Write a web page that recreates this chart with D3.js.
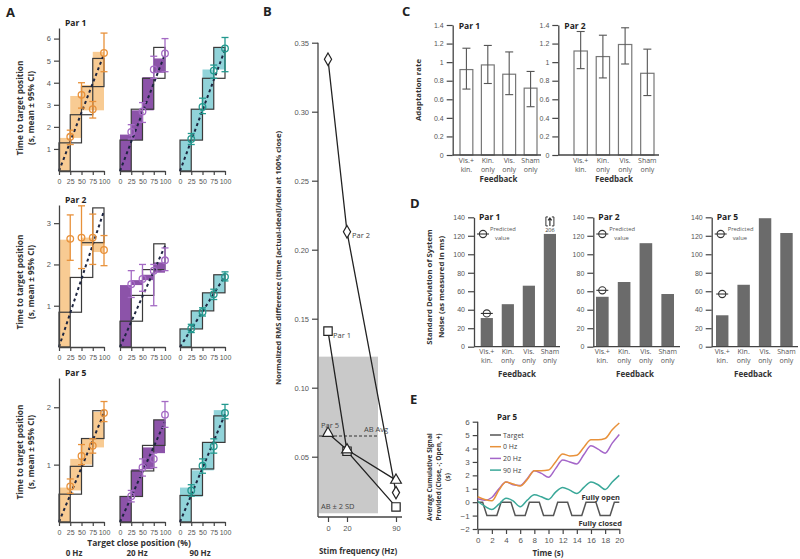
<!DOCTYPE html>
<html>
<head>
<meta charset="utf-8">
<script src="https://cdn.jsdelivr.net/npm/d3@7"></script>
<style>
  body { margin: 0; background: #fff; }
  svg { font-family: "Open Sans", "Liberation Sans", sans-serif; }
  .tick text { fill: #555; }
  .domain, .tick line { stroke: #444; }
</style>
</head>
<body>
<svg id="fig" width="800" height="559"></svg>
<script>
// ---------- panel A : time to target position ----------
const freqLabels = ["0 Hz", "20 Hz", "90 Hz"];
const targetPos = [25, 50, 75, 100];

const p1Ideal = [5.1, 5.6, 5.6];
const p1Fit = [5.3, 5.3, 5.5];
const p1Shade = [[[0, 1.5], [1.5, 3.4], [2.75, 3.9], [2.75, 5.4]],
                 [[0, 1.65], [1.4, 2.75], [2.75, 4.25], [4.45, 5.1]],
                 [[0, 1.4], [1.4, 2.8], [2.8, 4.6], [4.6, 5.6]]];
const p1Mean = [[1.55, 3.45, 2.8, 5.35], [1.77, 2.7, 4.6, 5.33], [1.45, 2.9, 4.55, 5.55]];
const p1Lo = [[1.2, 2.85, 2.4, 4.5], [1.45, 2.2, 4.2, 4.5], [1.2, 2.6, 4.2, 4.5]];
const p1Hi = [[1.85, 4.0, 3.15, 6.25], [2.1, 3.1, 5.2, 6.0], [1.7, 3.3, 4.8, 6.05]];

const p2Ideal = [3.37, 2.5, 1.75];
const p2Fit = [3.3, 2.45, 1.72];
const p2Shade = [[[0, 2.6], [2.6, 2.6], [2.45, 2.65], [2.3, 2.55]],
                 [[0, 1.5], [1.5, 1.62], [1.62, 1.75], [1.8, 2.05]],
                 [[0, 0.44], [0.44, 0.88], [0.88, 1.31], [1.31, 1.75]]];
const p2Mean = [[2.62, 2.65, 2.65, 2.35], [1.52, 1.65, 1.85, 2.1], [0.45, 0.85, 1.28, 1.7]];
const p2Lo = [[2.1, 1.9, 2.0, 1.97], [1.2, 1.35, 1.0, 1.85], [0.35, 0.75, 1.15, 1.6]];
const p2Hi = [[3.2, 3.42, 3.22, 2.7], [1.85, 2.0, 2.0, 2.4], [0.55, 0.95, 1.4, 1.82]];

const p5Ideal = [1.94, 1.78, 1.85];
const p5Fit = [1.9, 1.75, 1.88];
const p5Shade = [[[0, 0.6], [0.55, 1.1], [1.0, 1.45], [1.3, 1.92]],
                 [[0, 0.45], [0.45, 0.92], [0.92, 1.3], [1.2, 1.78]],
                 [[0, 0.6], [0.44, 0.9], [0.9, 1.38], [1.38, 1.95]]];
const p5Mean = [[0.62, 1.15, 1.33, 1.9], [0.45, 0.95, 1.1, 1.87], [0.55, 0.98, 1.32, 1.9]];
const p5Lo = [[0.5, 1.0, 1.2, 1.75], [0.35, 0.8, 0.95, 1.65], [0.45, 0.85, 1.2, 1.8]];
const p5Hi = [[0.75, 1.35, 1.45, 2.1], [0.55, 1.1, 1.2, 2.1], [0.65, 1.1, 1.45, 2.05]];

// ---------- panel B : RMS difference vs stim frequency ----------
const stimHz = [0, 20, 90];
const rmsPar1 = [0.141, 0.054, 0.0136];
const rmsPar2 = [0.338, 0.213, 0.024];
const rmsPar5 = [0.067, 0.055, 0.033];
const abAvg = 0.065;
const abBand = [0.009, 0.1225];

// ---------- panel C : adaptation rate ----------
const feedbackCats = ["Vis.+ kin.", "Kin. only", "Vis. only", "Sham only"];
const feedbackLines = [["Vis.+", "kin."], ["Kin.", "only"], ["Vis.", "only"], ["Sham", "only"]];
const adaptPar1 = [0.92, 0.97, 0.87, 0.72];
const adaptPar1Lo = [0.71, 0.77, 0.65, 0.52];
const adaptPar1Hi = [1.15, 1.18, 1.11, 0.90];
const adaptPar2 = [1.12, 1.06, 1.19, 0.88];
const adaptPar2Lo = [0.93, 0.83, 0.98, 0.64];
const adaptPar2Hi = [1.33, 1.29, 1.37, 1.14];

// ---------- panel D : system noise ----------
const noisePar1 = [31, 46, 66, 122];
const noisePar2 = [54, 70, 112, 57];
const noisePar5 = [34, 67, 139, 123];
const predictedNoise = [36, 61, 57];
const shamPar1Actual = 206;

// ---------- panel E : cumulative signal ----------
const timeS = [0, 1, 2, 3, 4, 5, 6, 7, 8, 9, 10, 11, 12, 13, 14, 15, 16, 17, 18, 19, 20];
const sig0Hz = [0.4, 0.2, 0.1, 0.9, 1.5, 1.35, 1.2, 1.7, 2.35, 2.35, 2.4, 3.0, 3.6, 3.45, 3.5, 4.1, 4.65, 4.65, 4.75, 5.4, 5.9];
const sig20Hz = [0.25, 0.15, 0.35, 1.0, 1.5, 1.3, 1.25, 1.75, 2.35, 2.15, 1.85, 2.5, 3.15, 3.0, 2.85, 3.55, 4.2, 3.95, 3.65, 4.4, 5.05];
const sig90Hz = [0.05, -0.3, -0.55, -0.15, 0.3, 0.1, -0.35, 0.15, 0.55, 0.4, 0.2, 0.75, 1.1, 0.9, 0.65, 1.1, 1.5, 1.3, 0.95, 1.5, 2.0];
const targetT = [0, 0.7, 1.3, 2.7, 3.3, 4.7, 5.3, 6.7, 7.3, 8.7, 9.3, 10.7, 11.3, 12.7, 13.3, 14.7, 15.3, 16.7, 17.3, 18.7, 19.3, 20];
const targetV = [0, 0, -1, -1, 0, 0, -1, -1, 0, 0, -1, -1, 0, 0, -1, -1, 0, 0, -1, -1, 0, 0];

const svg = d3.select("#fig");

function label(g, x, y, txt, opt) {
    opt = opt || {};
    let t = g.append("text")
        .attr("x", x).attr("y", y)
        .attr("font-size", opt.size || 8)
        .attr("font-weight", opt.bold ? "bold" : "normal")
        .attr("text-anchor", opt.anchor || "start")
        .attr("fill", opt.fill || "#333")
        .text(txt);
    if (opt.rotate) t.attr("transform", `rotate(-90,${x},${y})`);
    return t;
}

function styleAxis(g, size) {
    g.selectAll("text").attr("font-size", size);
    g.select(".domain").attr("stroke-width", 1.3);
    g.selectAll(".tick line").attr("stroke-width", 1.2);
}

// ---------- A ----------
function drawPanelA() {
    let colX = [59, 120, 180];
    let colW = 45;
    let fills = ["#f8cb93", "#8c53a9", "#91d3d9"];
    let dots = ["#e8913a", "#a46ac4", "#23998f"];
    let rows = [
        { title: "Par 1", base: 171, top: 28, max: 6.48, ticks: [1, 2, 3, 4, 5, 6], ideal: p1Ideal, fit: p1Fit, shade: p1Shade, mean: p1Mean, lo: p1Lo, hi: p1Hi, labY: 108 },
        { title: "Par 2", base: 347, top: 205, max: 3.44, ticks: [1, 2, 3], ideal: p2Ideal, fit: p2Fit, shade: p2Shade, mean: p2Mean, lo: p2Lo, hi: p2Hi, labY: 282 },
        { title: "Par 5", base: 522, top: 378, max: 2.51, ticks: [1, 2], ideal: p5Ideal, fit: p5Fit, shade: p5Shade, mean: p5Mean, lo: p5Lo, hi: p5Hi, labY: 452 }
    ];
    let g = svg.append("g");
    label(g, 6, 17, "A", { size: 13, bold: true, fill: "#222" });

    rows.forEach(row => {
        let y = d3.scaleLinear().domain([0, row.max]).range([row.base, row.top]);
        label(g, 65, row.top - 2, row.title, { size: 8.5, bold: true, fill: "#222" });
        label(g, 23, row.labY, "Time to target position", { size: 8.3, bold: true, anchor: "middle", rotate: true });
        label(g, 34, row.labY, "(s, mean \u00b1 95% CI)", { size: 8.3, bold: true, anchor: "middle", rotate: true });

        colX.forEach((x0, fi) => {
            let x = d3.scaleLinear().domain([0, 100]).range([x0, x0 + colW]);
            let sub = g.append("g");
            // measured steps
            sub.selectAll(".shade").data(row.shade[fi]).enter().append("rect")
                .attr("x", (d, i) => x(i * 25))
                .attr("width", x(25) - x(0))
                .attr("y", d => y(d[1]))
                .attr("height", d => y(d[0]) - y(d[1]))
                .attr("fill", fills[fi]);
            // ideal staircase
            let T = row.ideal[fi];
            sub.selectAll(".box").data(targetPos).enter().append("rect")
                .attr("x", d => x(d - 25))
                .attr("width", x(25) - x(0))
                .attr("y", d => y(T * d / 100))
                .attr("height", y(0) - y(T / 4))
                .attr("fill", "none")
                .attr("stroke", "#3a3a3a")
                .attr("stroke-width", 1.2);
            // fit line
            sub.append("line")
                .attr("x1", x(0)).attr("y1", y(0))
                .attr("x2", x(100)).attr("y2", y(row.fit[fi]))
                .attr("stroke", "#1d2540").attr("stroke-width", 2)
                .attr("stroke-dasharray", "3,3");
            // error bars
            targetPos.forEach((p, i) => {
                let c = dots[fi];
                sub.append("line").attr("x1", x(p)).attr("x2", x(p))
                    .attr("y1", y(row.lo[fi][i])).attr("y2", y(row.hi[fi][i]))
                    .attr("stroke", c).attr("stroke-width", 1.3);
                [row.lo[fi][i], row.hi[fi][i]].forEach(v => {
                    sub.append("line").attr("x1", x(p) - 3.5).attr("x2", x(p) + 3.5)
                        .attr("y1", y(v)).attr("y2", y(v))
                        .attr("stroke", c).attr("stroke-width", 1.3);
                });
            });
            sub.selectAll(".dot").data(row.mean[fi]).enter().append("circle")
                .attr("cx", (d, i) => x(targetPos[i]))
                .attr("cy", d => y(d))
                .attr("r", 3.3)
                .attr("fill", "none")
                .attr("stroke", dots[fi])
                .attr("stroke-width", 1.3);
            // x axis
            let ax = sub.append("g").attr("transform", `translate(0,${row.base})`)
                .call(d3.axisBottom(x).tickValues([0, 25, 50, 75, 100]).tickSize(4).tickSizeOuter(0).tickPadding(4));
            styleAxis(ax, 7);
            if (fi === 0) {
                let ay = sub.append("g").attr("transform", `translate(${x0},0)`)
                    .call(d3.axisLeft(y).tickValues(row.ticks).tickFormat(d3.format("d")).tickSize(5).tickSizeOuter(0).tickPadding(3));
                styleAxis(ay, 7.5);
            }
        });
    });
    label(g, 139, 546, "Target close position (%)", { size: 8.5, bold: true, anchor: "middle" });
    [74, 137, 200].forEach((cx, i) => label(g, cx, 556, freqLabels[i], { size: 8, bold: true, anchor: "middle" }));
}

// ---------- B ----------
function drawPanelB() {
    let g = svg.append("g");
    let axX = 318, axBottom = 517;
    let x = d3.scaleLinear().domain(stimHz).range([328, 347, 396]);
    let y = d3.scaleLinear().domain([0, 0.35]).range([525.7, 42.7]);
    label(g, 263, 16, "B", { size: 13, bold: true, fill: "#222" });

    g.append("rect")
        .attr("x", axX + 1).attr("width", 378 - axX - 1)
        .attr("y", y(abBand[1])).attr("height", y(abBand[0]) - y(abBand[1]))
        .attr("fill", "#c9c9c9");
    g.append("line").attr("x1", axX + 1).attr("x2", 378)
        .attr("y1", y(abAvg)).attr("y2", y(abAvg))
        .attr("stroke", "#333").attr("stroke-width", 1).attr("stroke-dasharray", "3,2");

    let ay = g.append("g").attr("transform", `translate(${axX},0)`)
        .call(d3.axisLeft(y).tickValues([0.05, 0.10, 0.15, 0.20, 0.25, 0.30, 0.35]).tickFormat(d3.format(".2f")).tickSize(6).tickSizeOuter(0).tickPadding(3));
    ay.select(".domain").attr("d", `M0,${axBottom}V${y(0.35)}`);
    styleAxis(ay, 7.5);
    let ax = g.append("g").attr("transform", `translate(0,${axBottom})`)
        .call(d3.axisBottom(x).tickValues(stimHz).tickSize(5).tickSizeOuter(0).tickPadding(4));
    ax.select(".domain").attr("d", `M${axX},0H402`);
    styleAxis(ax, 7.5);

    let line = d3.line().x((d, i) => x(stimHz[i])).y(d => y(d));
    let series = [
        { v: rmsPar2, sym: d3.symbolDiamond, size: 45, name: "Par 2", lx: 352, ly: 238 },
        { v: rmsPar1, sym: d3.symbolSquare, size: 70, name: "Par 1", lx: 333, ly: 338 },
        { v: rmsPar5, sym: d3.symbolTriangle, size: 50, name: "Par 5", lx: 321, ly: 428 }
    ];
    series.forEach(s => {
        g.append("path").attr("d", line(s.v)).attr("fill", "none")
            .attr("stroke", "#222").attr("stroke-width", 1.3);
        s.v.forEach((v, i) => {
            g.append("path").attr("d", d3.symbol(s.sym, s.size)())
                .attr("transform", `translate(${x(stimHz[i])},${y(v)})`)
                .attr("fill", "#fff").attr("stroke", "#222").attr("stroke-width", 1.2);
        });
        label(g, s.lx, s.ly, s.name, { size: 7.5, fill: "#444" });
    });
    label(g, 364, 432, "AB Avg", { size: 7.5, fill: "#444" });
    label(g, 321, 509, "AB \u00b1 2 SD", { size: 7.5, fill: "#444" });
    label(g, 281, 258, "Normalized RMS difference (time [actual-ideal]/ideal at 100% close)", { size: 7.6, bold: true, anchor: "middle", rotate: true });
    label(g, 358, 554, "Stim frequency (Hz)", { size: 8, bold: true, anchor: "middle" });
}

function catLabels(g, x, yTop, fbY, centerX) {
    feedbackCats.forEach((c, i) => {
        let cx = x(c) + x.bandwidth() / 2;
        label(g, cx, yTop, feedbackLines[i][0], { size: 7, anchor: "middle", fill: "#555" });
        label(g, cx, yTop + 8.5, feedbackLines[i][1], { size: 7, anchor: "middle", fill: "#555" });
    });
    label(g, centerX, fbY, "Feedback", { size: 8, bold: true, anchor: "middle" });
}

// ---------- C ----------
function drawPanelC() {
    let g = svg.append("g");
    label(g, 402, 16, "C", { size: 13, bold: true, fill: "#222" });
    let y = d3.scaleLinear().domain([0, 1.4]).range([155, 25]);
    let plots = [
        { axX: 452.7, range: [460, 537], end: 541, v: adaptPar1, lo: adaptPar1Lo, hi: adaptPar1Hi, title: "Par 1" },
        { axX: 558.3, range: [574, 654], end: 659, v: adaptPar2, lo: adaptPar2Lo, hi: adaptPar2Hi, title: "Par 2" }
    ];
    plots.forEach(p => {
        let x = d3.scaleBand().domain(feedbackCats).range(p.range).paddingInner(0.4).paddingOuter(0);
        g.selectAll(null).data(p.v).enter().append("rect")
            .attr("x", (d, i) => x(feedbackCats[i]))
            .attr("width", x.bandwidth())
            .attr("y", d => y(d))
            .attr("height", d => y(0) - y(d))
            .attr("fill", "#fff").attr("stroke", "#777").attr("stroke-width", 1.2);
        p.v.forEach((d, i) => {
            let cx = x(feedbackCats[i]) + x.bandwidth() / 2;
            g.append("line").attr("x1", cx).attr("x2", cx).attr("y1", y(p.lo[i])).attr("y2", y(p.hi[i]))
                .attr("stroke", "#555").attr("stroke-width", 1.1);
            [p.lo[i], p.hi[i]].forEach(v => g.append("line").attr("x1", cx - 4).attr("x2", cx + 4)
                .attr("y1", y(v)).attr("y2", y(v)).attr("stroke", "#555").attr("stroke-width", 1.1));
        });
        let ay = g.append("g").attr("transform", `translate(${p.axX},0)`)
            .call(d3.axisLeft(y).tickValues([0, 0.2, 0.4, 0.6, 0.8, 1, 1.2, 1.4]).tickFormat(d => String(+d.toFixed(1))).tickSize(6).tickSizeOuter(0).tickPadding(3));
        styleAxis(ay, 7);
        g.append("line").attr("x1", p.axX).attr("x2", p.end).attr("y1", y(0)).attr("y2", y(0))
            .attr("stroke", "#444").attr("stroke-width", 1.3);
        label(g, p.axX + 6, 29, p.title, { size: 8.5, bold: true, fill: "#222" });
        catLabels(g, x, 163, 182, (p.range[0] + p.range[1]) / 2);
    });
    label(g, 421, 90, "Adaptation rate", { size: 7.8, bold: true, anchor: "middle", rotate: true });
}

// ---------- D ----------
function predMarker(g, cx, cy) {
    g.append("circle").attr("cx", cx).attr("cy", cy).attr("r", 3.6)
        .attr("fill", "none").attr("stroke", "#333").attr("stroke-width", 1.1);
    g.append("line").attr("x1", cx - 6).attr("x2", cx + 6).attr("y1", cy).attr("y2", cy)
        .attr("stroke", "#333").attr("stroke-width", 1.1);
}

function offScaleMark(g, cx, top) {
    // bracketed up-arrow showing the bar is clipped
    let b = top - 8, t = top - 17;
    g.append("path").attr("d", `M${cx - 2},${b}H${cx - 4}V${t}H${cx - 2}M${cx + 2},${b}H${cx + 4}V${t}H${cx + 2}`)
        .attr("fill", "none").attr("stroke", "#333").attr("stroke-width", 1);
    g.append("path").attr("d", `M${cx},${b}V${t + 1.5}M${cx - 1.8},${t + 3.5}L${cx},${t + 1}L${cx + 1.8},${t + 3.5}`)
        .attr("fill", "none").attr("stroke", "#333").attr("stroke-width", 1.2);
}

function drawPanelD() {
    let g = svg.append("g");
    label(g, 410, 208, "D", { size: 13, bold: true, fill: "#222" });
    let y = d3.scaleLinear().domain([0, 140]).range([346.7, 217.3]);
    let plots = [
        { axX: 474, range: [480.7, 556], end: 560, v: noisePar1, title: "Par 1", fbX: 517 },
        { axX: 593.3, range: [596, 674], end: 680, v: noisePar2, title: "Par 2", fbX: 635 },
        { axX: 711.7, range: [716, 792.7], end: 798, v: noisePar5, title: "Par 5", fbX: 753 }
    ];
    plots.forEach((p, pi) => {
        let x = d3.scaleBand().domain(feedbackCats).range(p.range).paddingInner(0.42).paddingOuter(0);
        g.selectAll(null).data(p.v).enter().append("rect")
            .attr("x", (d, i) => x(feedbackCats[i]))
            .attr("width", x.bandwidth())
            .attr("y", d => y(d))
            .attr("height", d => y(0) - y(d))
            .attr("fill", "#6b6b6b");
        let ay = g.append("g").attr("transform", `translate(${p.axX},0)`)
            .call(d3.axisLeft(y).tickValues([0, 20, 40, 60, 80, 100, 120, 140]).tickSize(6).tickSizeOuter(0).tickPadding(3));
        styleAxis(ay, 7);
        g.append("line").attr("x1", p.axX).attr("x2", p.end).attr("y1", y(0)).attr("y2", y(0))
            .attr("stroke", "#444").attr("stroke-width", 1.3);
        let c0 = x(feedbackCats[0]) + x.bandwidth() / 2;
        predMarker(g, c0, y(predictedNoise[pi]));
        predMarker(g, p.axX + 9, 234);
        label(g, p.axX + 16, 231, "Predicted", { size: 5.8, fill: "#555" });
        label(g, p.axX + 21, 239.5, "value", { size: 5.8, fill: "#555" });
        label(g, p.axX + 5, 220, p.title, { size: 8.5, bold: true, fill: "#222" });
        catLabels(g, x, 354, 377, p.fbX);
        if (pi === 0) {
            let cx = x(feedbackCats[3]) + x.bandwidth() / 2;
            label(g, cx, y(p.v[3]) - 1.5, String(shamPar1Actual), { size: 5.5, anchor: "middle", fill: "#333" });
            offScaleMark(g, cx, y(p.v[3]));
        }
    });
    label(g, 432, 287, "Standard Deviation of System", { size: 7.8, bold: true, anchor: "middle", rotate: true });
    label(g, 443.5, 287, "Noise (as measured in ms)", { size: 7.8, bold: true, anchor: "middle", rotate: true });
}

// ---------- E ----------
function drawPanelE() {
    let g = svg.append("g");
    label(g, 410, 404, "E", { size: 13, bold: true, fill: "#222" });
    let x = d3.scaleLinear().domain([0, 20]).range([477.7, 619.3]);
    let y = d3.scaleLinear().domain([-2, 6]).range([529, 421.7]);
    let ay = g.append("g").attr("transform", `translate(${x(0)},0)`)
        .call(d3.axisLeft(y).ticks(8).tickSize(5).tickSizeOuter(0).tickPadding(3));
    styleAxis(ay, 8);
    ay.select(".domain").attr("d", `M0,${y(-2)}V${y(6)}`);
    let ax = g.append("g").attr("transform", `translate(0,${y(-2)})`)
        .call(d3.axisBottom(x).tickValues(d3.range(0, 21, 2)).tickSize(5).tickSizeOuter(0).tickPadding(3));
    styleAxis(ax, 8);

    let tline = d3.line().x((d, i) => x(targetT[i])).y(d => y(d));
    g.append("path").attr("d", tline(targetV)).attr("fill", "none")
        .attr("stroke", "#555").attr("stroke-width", 1.5);
    let sline = d3.line().x((d, i) => x(timeS[i])).y(d => y(d)).curve(d3.curveMonotoneX);
    let series = [
        { v: sig90Hz, c: "#3aa899", name: "90 Hz" },
        { v: sig20Hz, c: "#a466c9", name: "20 Hz" },
        { v: sig0Hz, c: "#e8913a", name: "0 Hz" }
    ];
    series.forEach(s => g.append("path").attr("d", sline(s.v)).attr("fill", "none")
        .attr("stroke", s.c).attr("stroke-width", 1.5));

    let legend = [{ n: "Target", c: "#555" }, { n: "0 Hz", c: "#e8913a" }, { n: "20 Hz", c: "#a466c9" }, { n: "90 Hz", c: "#3aa899" }];
    legend.forEach((l, i) => {
        let ly = 435 + i * 11.7;
        g.append("line").attr("x1", 490).attr("x2", 501).attr("y1", ly).attr("y2", ly)
            .attr("stroke", l.c).attr("stroke-width", 1.5);
        label(g, 503, ly + 2.5, l.n, { size: 7, fill: "#444" });
    });
    label(g, 497, 420, "Par 5", { size: 8, bold: true, fill: "#222" });
    label(g, 620, 500, "Fully open", { size: 7.5, bold: true, anchor: "end", fill: "#333" });
    label(g, 622, 526, "Fully closed", { size: 7.5, bold: true, anchor: "end", fill: "#333" });
    label(g, 548, 556, "Time (s)", { size: 8, bold: true, anchor: "middle" });
    label(g, 432, 477, "Average Cumulative Signal", { size: 6.6, bold: true, anchor: "middle", rotate: true });
    label(g, 440.5, 477, "Provided (Close, -; Open, +)", { size: 6.6, bold: true, anchor: "middle", rotate: true });
    label(g, 449.5, 477, "(s)", { size: 6.6, bold: true, anchor: "middle", rotate: true });
}

drawPanelA();
drawPanelB();
drawPanelC();
drawPanelD();
drawPanelE();
</script>
</body>
</html>
